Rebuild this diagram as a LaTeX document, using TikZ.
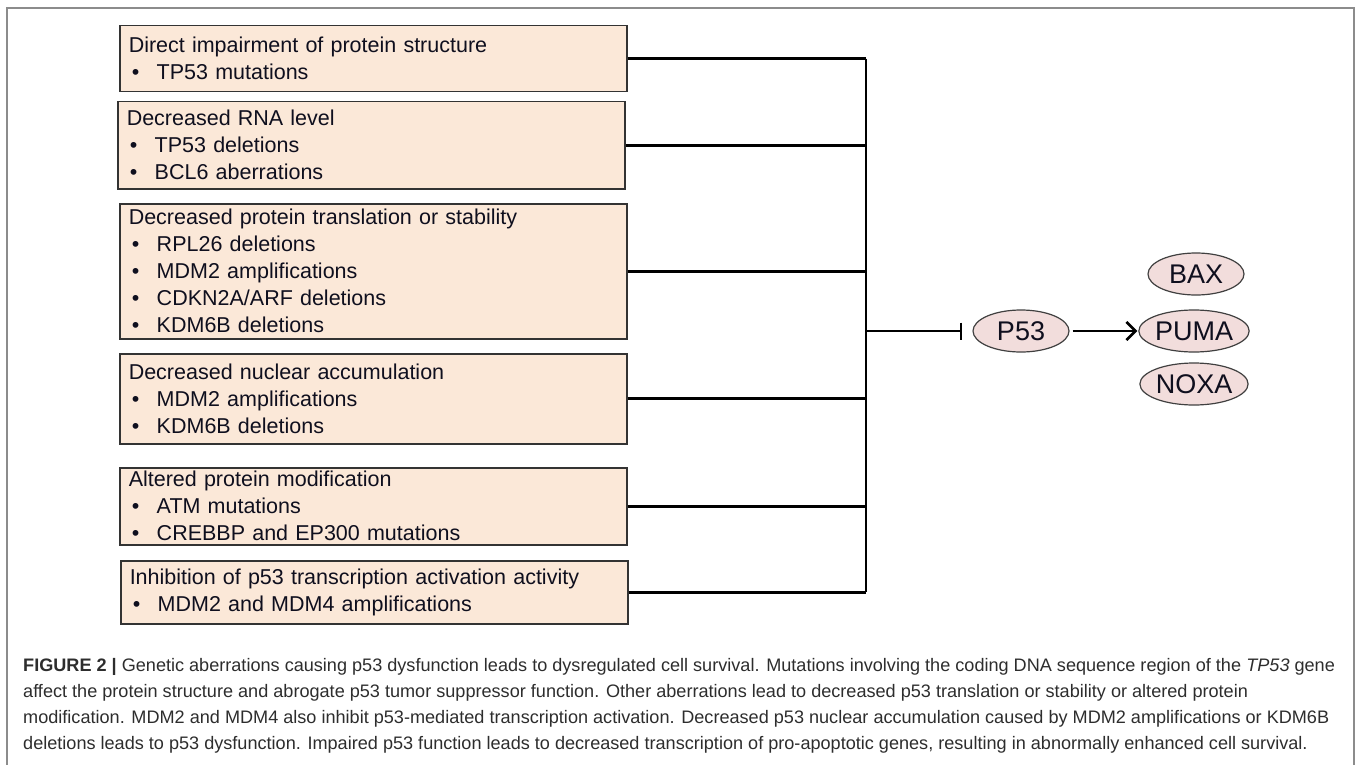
\documentclass[tikz,border=0pt]{standalone}
\usepackage{fontspec}
\setmainfont{Liberation Sans}
\newfontfamily\boxfont[WordSpace=1.4]{Liberation Sans}
\usetikzlibrary{positioning,arrows.meta,shapes.geometric}
\definecolor{boxfill}{RGB}{251,232,216}
\definecolor{ovalfill}{RGB}{242,221,220}
\definecolor{framegray}{RGB}{140,140,140}
\definecolor{captext}{RGB}{45,45,45}
\definecolor{boxtext}{RGB}{15,15,30}
\newcommand{\bul}[1]{\makebox[28pt][l]{\hspace{3pt}\textbullet}#1}

\begin{document}
\begin{tikzpicture}[
  x=1pt, y=-1pt,
  cause/.style={draw=black!80, line width=1.5pt, fill=boxfill, anchor=north west,
    text width=489pt, inner xsep=9pt, inner ysep=0pt, align=left, text=boxtext,
    font=\boxfont\fontsize{21.5}{27}\selectfont},
  gene/.style={ellipse, draw=black!75, line width=1.2pt, fill=ovalfill,
    minimum width=96pt, minimum height=42pt, inner sep=0pt, text=boxtext,
    font=\fontsize{27}{27}\selectfont},
  link/.style={draw, line width=2.6pt}
]
  \useasboundingbox (0,0) rectangle (1357,765);
  % frame, open at the bottom
  \draw[framegray, line width=1.5pt] (7,765) -- (7,8) -- (1354,8) -- (1354,765);

  % causes of p53 dysfunction
  \node[cause, minimum height=66pt]  (impair)  at (119,25)  {Direct impairment of protein structure\\ \bul{TP53 mutations}};
  \node[cause, minimum height=87pt]  (rna)     at (117,101) {Decreased RNA level\\ \bul{TP53 deletions}\\ \bul{BCL6 aberrations}};
  \node[cause, minimum height=135pt] (transl)  at (119,203) {Decreased protein translation or stability\\ \bul{RPL26 deletions}\\ \bul{MDM2 amplifications}\\ \bul{CDKN2A/ARF deletions}\\ \bul{KDM6B deletions}};
  \node[cause, minimum height=90pt]  (nuclear) at (119,353) {Decreased nuclear accumulation\\ \bul{MDM2 amplifications}\\ \bul{KDM6B deletions}};
  \node[cause, minimum height=77pt]  (modif)   at (119,467) {Altered protein modification\\ \bul{ATM mutations}\\ \bul{CREBBP and EP300 mutations}};
  \node[cause, minimum height=63pt]  (inhib)   at (120,560) {Inhibition of p53 transcription activation activity\\ \bul{MDM2 and MDM4 amplifications}};

  % p53 and its targets
  \node[gene] (p53)  at (1021,331) {P53};
  \node[gene] (bax)  at (1196,274) {BAX};
  \node[gene] (puma) at (1194,331) {PUMA};
  \node[gene] (noxa) at (1194,384) {NOXA};

  \coordinate (bus) at (866,0);
  \coordinate (hub) at (866,331);

  \draw[link] (impair.east)  -- (impair.east -| bus);
  \draw[link] (rna.east)     -- (rna.east -| bus);
  \draw[link] (transl.east)  -- (transl.east -| bus);
  \draw[link] (nuclear.east) -- (nuclear.east -| bus);
  \draw[link] (modif.east)   -- (modif.east -| bus);
  \draw[link] (inhib.east)   -- (inhib.east -| bus);
  \draw[link] (impair.east -| bus) -- (inhib.east -| bus);

  \draw[link, -{Bar[width=17pt]}, shorten >=10pt] (hub) -- (p53.west);
  \draw[link, -{Straight Barb[length=9pt, width=18pt]}, shorten <=3pt, shorten >=1pt] (p53.east) -- (puma.west);

  % caption
  \node[anchor=north west, align=left, inner sep=0pt, text=captext,
    font=\fontsize{18.1}{26}\selectfont] (caption) at (23,658)
    {\textbf{FIGURE 2 |} Genetic aberrations causing p53 dysfunction leads to dysregulated cell survival. Mutations involving the coding DNA sequence region of the \textit{TP53} gene\\
     affect the protein structure and abrogate p53 tumor suppressor function. Other aberrations lead to decreased p53 translation or stability or altered protein\\
     modification. MDM2 and MDM4 also inhibit p53-mediated transcription activation. Decreased p53 nuclear accumulation caused by MDM2 amplifications or KDM6B\\
     deletions leads to p53 dysfunction. Impaired p53 function leads to decreased transcription of pro-apoptotic genes, resulting in abnormally enhanced cell survival.};
\end{tikzpicture}
\end{document}
